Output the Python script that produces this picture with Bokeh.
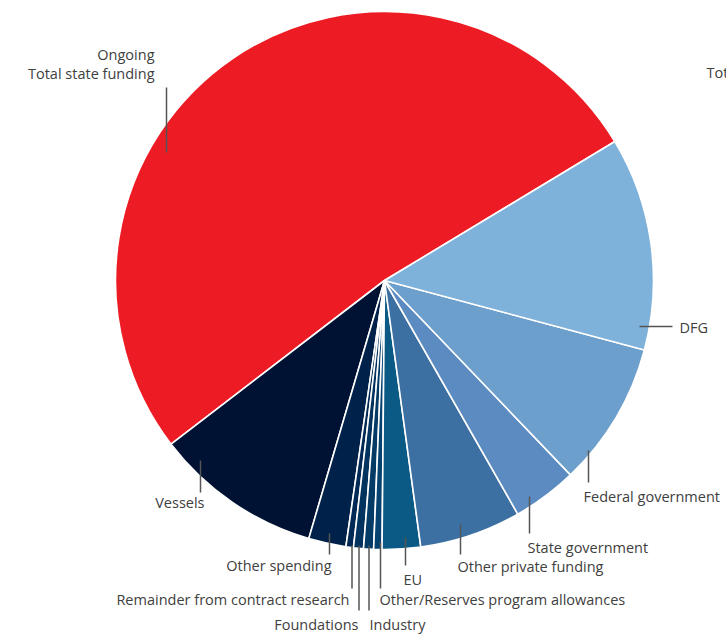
import numpy as np
from bokeh.plotting import figure
from bokeh.models import ColumnDataSource
from bokeh.core.properties import value
from bokeh.embed import file_html
from bokeh.resources import INLINE

# ---- data (share in percent, anticlockwise from the red/DFG boundary) ----
categories = ["Ongoing total state funding", "Vessels", "Other spending",
              "Remainder from contract research", "Foundations", "Industry",
              "Other/Reserves program allowances", "EU", "Other private funding",
              "State government", "Federal government", "DFG"]
values = [51.8, 10.05, 2.25, 0.45, 0.6, 0.6, 0.5, 2.3, 6.1, 3.9, 8.7, 12.8]
colors = ["#ED1C24", "#001233", "#00224A", "#002A55", "#02325E", "#043A66",
          "#06426F", "#0B5A85", "#3D70A2", "#5B8BC0", "#6C9FCB", "#7FB2DA"]

W, H = 726, 634
CX, CY, R = 384, 280, 269          # pixel layout of the pie
START_DEG = 31.1                   # red slice starts here (math angle)

v = np.array(values, dtype=float)
frac = v / v.sum()
cum = np.concatenate([[0], np.cumsum(frac)])
start = np.deg2rad(START_DEG) + cum[:-1] * 2 * np.pi
end = np.deg2rad(START_DEG) + cum[1:] * 2 * np.pi

p = figure(width=W, height=H, x_range=(0, W), y_range=(0, H),
           toolbar_location=None, output_backend="svg", min_border=0,
           x_axis_location=None, y_axis_location=None)
p.grid.visible = False
p.outline_line_color = None
p.background_fill_color = "white"

src = ColumnDataSource(dict(cat=categories, start=start, end=end, color=colors,
                            x=[CX] * len(v), y=[H - CY] * len(v)))
p.wedge(x="x", y="y", radius=R, radius_units="data", start_angle="start",
        end_angle="end", fill_color="color", line_color="white",
        line_width=1.6, source=src)

# ---- labels (pixel layout: text, x, y, align) ----
labels = [
    ("Ongoing", 154, 54, "right"),
    ("Total state funding", 154, 73, "right"),
    ("DFG", 679, 327, "left"),
    ("Federal government", 583, 496, "left"),
    ("State government", 527, 547, "left"),
    ("Other private funding", 457, 566, "left"),
    ("EU", 403, 579, "left"),
    ("Other/Reserves program allowances", 379, 599, "left"),
    ("Industry", 369, 624, "left"),
    ("Foundations", 358, 624, "right"),
    ("Remainder from contract research", 349, 599, "right"),
    ("Other spending", 331, 565, "right"),
    ("Vessels", 204, 502, "right"),
    ("Total third-party funding", 706, 72, "left"),
]
# leader lines (pixel layout x0, y0, x1, y1)
leaders = [
    (166, 87, 166, 152),
    (639, 326, 672, 326),
    (588, 450, 588, 482),
    (529, 496, 529, 533),
    (460, 524, 460, 554),
    (405, 537, 405, 565),
    (380, 542, 380, 588),
    (368.5, 545, 368.5, 610),
    (358.5, 545, 358.5, 610),
    (351.5, 545, 351.5, 588),
    (329, 533, 329, 554),
    (200, 460, 200, 492),
]

p.segment(x0=[l[0] for l in leaders], y0=[H - l[1] for l in leaders],
          x1=[l[2] for l in leaders], y1=[H - l[3] for l in leaders],
          line_color="#555555", line_width=1.5)

for align in ("left", "right"):
    sel = [l for l in labels if l[3] == align]
    p.text(x=[l[1] for l in sel], y=[H - l[2] for l in sel], text=[l[0] for l in sel],
           text_align=align, text_baseline="middle", text_font=value("Open Sans"),
           text_font_size="14.5px", text_color="#404040")

open("out.html", "w").write(file_html(p, INLINE))
